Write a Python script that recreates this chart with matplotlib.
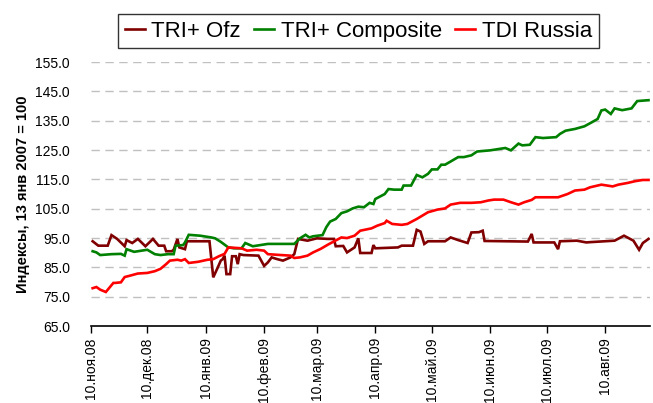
import matplotlib
matplotlib.use("Agg")
import matplotlib.pyplot as plt
import pandas as pd
from matplotlib import font_manager

# pick a narrow Arial-like face if present
names = {f.name for f in font_manager.fontManager.ttflist}
FONT = ["Liberation Sans Narrow", "Liberation Sans", "DejaVu Sans"]
FONT = [f for f in FONT if f in names] + ["DejaVu Sans"]
plt.rcParams["font.family"] = FONT

# --- data ---
ofz_dates = ["2008-11-11", "2008-11-14", "2008-11-19", "2008-11-21", "2008-11-24", "2008-11-28",
             "2008-11-29", "2008-12-02", "2008-12-05", "2008-12-09", "2008-12-13", "2008-12-16",
             "2008-12-19", "2008-12-20", "2008-12-23", "2008-12-24", "2008-12-26", "2008-12-27",
             "2008-12-30", "2008-12-31", "2009-01-12", "2009-01-14", "2009-01-16", "2009-01-18",
             "2009-01-19", "2009-01-20", "2009-01-21", "2009-01-23", "2009-01-24", "2009-01-26",
             "2009-01-27", "2009-01-28", "2009-01-30", "2009-02-07", "2009-02-10", "2009-02-12",
             "2009-02-14", "2009-02-17", "2009-02-20", "2009-02-24", "2009-02-26", "2009-02-28",
             "2009-03-05", "2009-03-10", "2009-03-16", "2009-03-19", "2009-03-20", "2009-03-24",
             "2009-03-26", "2009-03-30", "2009-04-01", "2009-04-02", "2009-04-08", "2009-04-09",
             "2009-04-10", "2009-04-22", "2009-04-24", "2009-04-30", "2009-05-02", "2009-05-04",
             "2009-05-06", "2009-05-08", "2009-05-17", "2009-05-20", "2009-05-24", "2009-05-29",
             "2009-05-31", "2009-06-04", "2009-06-06", "2009-06-07", "2009-06-30", "2009-07-02",
             "2009-07-03", "2009-07-14", "2009-07-16", "2009-07-17", "2009-07-26", "2009-07-31",
             "2009-08-02", "2009-08-15", "2009-08-20", "2009-08-25", "2009-08-28", "2009-08-30",
             "2009-09-02"]
ofz_vals = [93.9, 92.4, 92.4, 96.0, 94.7, 92.2,
            94.3, 93.3, 94.7, 92.2, 94.7, 92.4,
            92.4, 90.5, 90.5, 91.0, 94.7, 91.8,
            91.2, 93.9, 93.9, 81.6, 84.4, 87.3,
            87.8, 89.0, 82.7, 82.7, 88.8, 88.8,
            86.1, 89.5, 89.2, 89.0, 85.5, 86.7,
            88.4, 87.8, 87.3, 88.4, 89.5, 94.7,
            94.1, 94.9, 94.7, 94.7, 92.2, 92.3,
            90.1, 91.8, 94.9, 89.9, 89.9, 92.6,
            91.5, 91.8, 92.4, 92.4, 97.8, 97.2,
            93.0, 93.9, 93.9, 95.2, 94.3, 93.3,
            96.9, 97.0, 97.5, 94.0, 93.8, 96.4,
            93.5, 93.5, 91.2, 93.9, 94.1, 93.5,
            93.6, 94.1, 95.8, 94.1, 91.0, 93.3,
            94.7]

comp_dates = ["2008-11-11", "2008-11-13", "2008-11-15", "2008-11-21", "2008-11-26", "2008-11-28",
              "2008-11-29", "2008-12-03", "2008-12-10", "2008-12-14", "2008-12-17", "2008-12-21",
              "2008-12-24", "2008-12-25", "2008-12-29", "2008-12-30", "2009-01-01", "2009-01-07",
              "2009-01-13", "2009-01-15", "2009-01-18", "2009-01-22", "2009-01-25", "2009-01-29",
              "2009-01-31", "2009-02-04", "2009-02-12", "2009-02-21", "2009-02-26", "2009-03-01",
              "2009-03-04", "2009-03-06", "2009-03-08", "2009-03-13", "2009-03-15", "2009-03-17",
              "2009-03-20", "2009-03-23", "2009-03-26", "2009-03-29", "2009-04-01", "2009-04-04",
              "2009-04-07", "2009-04-09", "2009-04-10", "2009-04-15", "2009-04-17", "2009-04-20",
              "2009-04-24", "2009-04-25", "2009-04-29", "2009-05-02", "2009-05-05", "2009-05-08",
              "2009-05-10", "2009-05-13", "2009-05-15", "2009-05-17", "2009-05-20", "2009-05-24",
              "2009-05-27", "2009-05-31", "2009-06-03", "2009-06-10", "2009-06-16", "2009-06-18",
              "2009-06-21", "2009-06-25", "2009-06-27", "2009-07-01", "2009-07-04", "2009-07-08",
              "2009-07-15", "2009-07-17", "2009-07-20", "2009-07-25", "2009-07-30", "2009-08-03",
              "2009-08-06", "2009-08-08", "2009-08-10", "2009-08-13", "2009-08-15", "2009-08-19",
              "2009-08-24", "2009-08-27", "2009-09-02"]
comp_vals = [90.5, 90.1, 89.2, 89.5, 89.6, 89.0,
             91.2, 90.3, 91.0, 89.5, 89.2, 89.5,
             89.5, 92.4, 92.6, 93.5, 96.1, 95.8,
             95.2, 94.9, 93.7, 91.8, 91.5, 91.5,
             93.3, 92.2, 93.0, 93.0, 93.0, 94.9,
             96.1, 95.2, 95.6, 96.0, 98.7, 100.6,
             101.5, 103.5, 104.1, 105.1, 105.7, 105.5,
             107.0, 106.6, 108.3, 110.0, 111.7, 111.5,
             111.5, 112.9, 112.9, 116.5, 115.7, 116.9,
             118.4, 118.4, 120.0, 120.0, 121.1, 122.6,
             122.6, 123.2, 124.5, 124.9, 125.5, 125.7,
             124.9, 127.2, 126.6, 126.8, 129.4, 129.1,
             129.4, 130.5, 131.6, 132.2, 133.1, 134.5,
             135.6, 138.5, 138.8, 137.3, 139.2, 138.6,
             139.2, 141.7, 142.0]

tdi_dates = ["2008-11-11", "2008-11-13", "2008-11-15", "2008-11-18", "2008-11-22", "2008-11-23",
             "2008-11-26", "2008-11-28", "2008-12-01", "2008-12-05", "2008-12-10", "2008-12-14",
             "2008-12-17", "2008-12-20", "2008-12-22", "2008-12-26", "2008-12-28", "2008-12-30",
             "2009-01-01", "2009-01-06", "2009-01-11", "2009-01-14", "2009-01-17", "2009-01-20",
             "2009-01-22", "2009-01-29", "2009-02-01", "2009-02-06", "2009-02-10", "2009-02-12",
             "2009-02-19", "2009-02-24", "2009-02-26", "2009-03-01", "2009-03-05", "2009-03-08",
             "2009-03-12", "2009-03-16", "2009-03-23", "2009-03-26", "2009-03-30", "2009-04-02",
             "2009-04-08", "2009-04-11", "2009-04-15", "2009-04-16", "2009-04-19", "2009-04-24",
             "2009-04-27", "2009-05-02", "2009-05-08", "2009-05-13", "2009-05-17", "2009-05-20",
             "2009-05-25", "2009-05-31", "2009-06-05", "2009-06-09", "2009-06-12", "2009-06-17",
             "2009-06-21", "2009-06-25", "2009-06-28", "2009-07-02", "2009-07-04", "2009-07-16",
             "2009-07-21", "2009-07-25", "2009-07-30", "2009-08-02", "2009-08-08", "2009-08-14",
             "2009-08-17", "2009-08-22", "2009-08-26", "2009-08-30", "2009-09-02"]
tdi_vals = [77.9, 78.3, 77.4, 76.6, 79.7, 79.7,
            79.9, 81.7, 82.2, 82.9, 83.1, 83.7,
            84.5, 86.1, 87.3, 87.6, 87.3, 87.8,
            86.5, 86.9, 87.6, 87.8, 88.8, 89.6,
            91.8, 91.5, 90.7, 91.0, 90.7, 89.5,
            89.2, 89.0, 88.2, 88.4, 89.0, 90.1,
            91.3, 92.8, 95.2, 95.0, 95.8, 97.5,
            98.3, 99.2, 100.1, 100.9, 99.8, 99.5,
            99.8, 101.5, 103.8, 104.7, 105.1, 106.4,
            107.0, 107.0, 107.2, 107.8, 108.1, 108.1,
            107.2, 106.4, 107.2, 108.0, 108.9, 108.9,
            110.0, 111.2, 111.5, 112.3, 113.2, 112.6,
            113.2, 113.8, 114.4, 114.8, 114.8]

series_names = ["TRI+ Ofz", "TRI+ Composite", "TDI Russia"]
series_colors = ["#800000", "#008000", "#FF0000"]

tick_dates = ["2008-11-10", "2008-12-10", "2009-01-10", "2009-02-10", "2009-03-10",
              "2009-04-10", "2009-05-10", "2009-06-10", "2009-07-10", "2009-08-10"]
tick_labels = ["10.ноя.08", "10.дек.08", "10.янв.09", "10.фев.09", "10.мар.09",
               "10.апр.09", "10.май.09", "10.июн.09", "10.июл.09", "10.авг.09"]
y_ticks = [65, 75, 85, 95, 105, 115, 125, 135, 145, 155]

fig = plt.figure(figsize=(6.53, 4.03), dpi=100)
ax = fig.add_axes([0.139, 0.191, 0.857, 0.655])

all_dates = [ofz_dates, comp_dates, tdi_dates]
all_vals = [ofz_vals, comp_vals, tdi_vals]
for d, v, name, col in zip(all_dates, all_vals, series_names, series_colors):
    ax.plot(pd.to_datetime(d), v, color=col, lw=1.9, label=name, solid_joinstyle="miter")

ax.set_ylim(65, 155)
ax.set_yticks(y_ticks)
ax.set_yticklabels([f"{t:.1f}" for t in y_ticks], fontsize=10)
ax.tick_params(axis="y", length=0, pad=15)
for t in y_ticks[1:]:
    ax.axhline(t, color="#c0c0c0", lw=1.0, ls=(0, (6, 4)), zorder=0)

ax.set_xlim(pd.Timestamp("2008-11-10"), pd.Timestamp("2009-09-03"))
ax.set_xticks(pd.to_datetime(tick_dates))
ax.set_xticklabels(tick_labels, rotation=90, fontsize=10, va="top", ha="center")
ax.tick_params(axis="x", direction="out", length=5, width=1, pad=3)

for s in ["top", "right", "left"]:
    ax.spines[s].set_visible(False)
ax.spines["bottom"].set_linewidth(1.2)

ax.set_ylabel("Индексы, 13 янв 2007 = 100", fontsize=10.5, fontweight="bold", labelpad=4)

leg = fig.legend(loc="center", bbox_to_anchor=(0.549, 0.923), ncol=3, fontsize=16,
                 frameon=True, fancybox=False, edgecolor="black", handlelength=0.9,
                 handletextpad=0.3, columnspacing=0.6, borderpad=0.3)
leg.get_frame().set_linewidth(1.0)

fig.savefig("out.png", dpi=100)
